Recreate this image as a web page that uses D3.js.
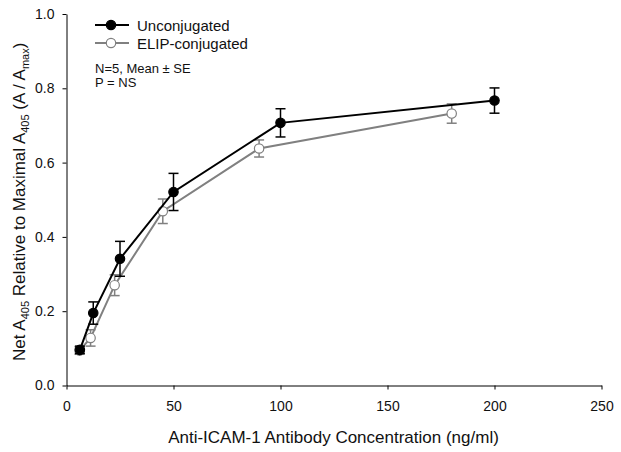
<!DOCTYPE html>
<html>
<head>
<meta charset="utf-8">
<script src="https://cdn.jsdelivr.net/npm/d3@7"></script>
<style>
  body { margin: 0; background: #fff; }
  svg { display: block; font-family: "Liberation Sans", Arial, sans-serif; }
</style>
</head>
<body>
<svg id="chart" width="621" height="452"></svg>
<script>
// Data
const unconjX = [6.25, 12.5, 25, 50, 100, 200];
const unconjY = [0.096, 0.195, 0.341, 0.521, 0.707, 0.767];
const unconjSE = [0.010, 0.030, 0.047, 0.050, 0.038, 0.034];

const elipX = [6.1, 11.25, 22.5, 45, 90, 180];
const elipY = [0.094, 0.128, 0.270, 0.469, 0.638, 0.732];
const elipSE = [0.010, 0.022, 0.028, 0.033, 0.023, 0.026];

const xTicks = [0, 50, 100, 150, 200, 250];
const yTicks = [0.0, 0.2, 0.4, 0.6, 0.8, 1.0];

(function () {
const svg = d3.select("#chart");
const mLeft = 66.5, mRight = 601.5, mTop = 14, mBottom = 385.5;

const x = d3.scaleLinear().domain([0, 250]).range([mLeft, mRight]);
const y = d3.scaleLinear().domain([0, 1]).range([mBottom, mTop]);

// Axes
svg.append("g")
  .attr("transform", `translate(0,${mBottom})`)
  .call(d3.axisBottom(x).tickValues(xTicks).tickSize(4).tickSizeOuter(0).tickPadding(12).tickFormat(d3.format("d")))
  .call(g => g.selectAll("text").attr("font-size", 14).attr("fill", "#111"))
  .call(g => g.select(".domain").attr("stroke", "#000"))
  .call(g => g.selectAll(".tick line").attr("stroke", "#000"));

svg.append("g")
  .attr("transform", `translate(${mLeft},0)`)
  .call(d3.axisLeft(y).tickValues(yTicks).tickSize(4).tickSizeOuter(0).tickPadding(8).tickFormat(d3.format(".1f")))
  .call(g => g.selectAll("text").attr("font-size", 14).attr("fill", "#111"))
  .call(g => g.select(".domain").attr("stroke", "#000"))
  .call(g => g.selectAll(".tick line").attr("stroke", "#000"));

// Axis labels
svg.append("text")
  .attr("x", (mLeft + mRight) / 2 - 0.5)
  .attr("y", 443)
  .attr("text-anchor", "middle")
  .attr("font-size", 17)
  .attr("fill", "#111")
  .text("Anti-ICAM-1 Antibody Concentration (ng/ml)");

const yl = svg.append("text")
  .attr("transform", `translate(25,${(mTop + mBottom) / 2 + 2}) rotate(-90)`)
  .attr("text-anchor", "middle")
  .attr("font-size", 17)
  .attr("fill", "#111");
const parts = [
  ["Net A", false], ["405", true], [" Relative to Maximal A", false], ["405", true],
  [" (A / A", false], ["max", true], [")", false]
];
parts.forEach(([t, sub], i) => {
  const ts = yl.append("tspan").text(t);
  if (sub) ts.attr("font-size", 11).attr("dy", 4);
  else if (i > 0) ts.attr("dy", -4);
});

// Series drawing
function drawSeries(xs, ys, se, color, fill, width) {
  const pts = xs.map((d, i) => ({ x: d, y: ys[i], e: se[i] }));
  const g = svg.append("g");
  g.append("path")
    .datum(pts)
    .attr("fill", "none")
    .attr("stroke", color)
    .attr("stroke-width", width)
    .attr("d", d3.line().x(d => x(d.x)).y(d => y(d.y)));
  const eb = g.selectAll(".eb").data(pts).enter().append("g")
    .attr("stroke", color).attr("stroke-width", 1.5);
  eb.append("line")
    .attr("x1", d => x(d.x)).attr("x2", d => x(d.x))
    .attr("y1", d => y(d.y + d.e)).attr("y2", d => y(d.y - d.e));
  eb.append("line")
    .attr("x1", d => x(d.x) - 5).attr("x2", d => x(d.x) + 5)
    .attr("y1", d => y(d.y + d.e)).attr("y2", d => y(d.y + d.e));
  eb.append("line")
    .attr("x1", d => x(d.x) - 5).attr("x2", d => x(d.x) + 5)
    .attr("y1", d => y(d.y - d.e)).attr("y2", d => y(d.y - d.e));
  g.selectAll("circle").data(pts).enter().append("circle")
    .attr("cx", d => x(d.x)).attr("cy", d => y(d.y))
    .attr("r", 4.7)
    .attr("fill", fill)
    .attr("stroke", color)
    .attr("stroke-width", 1.2);
}

drawSeries(elipX, elipY, elipSE, "#808080", "#fff", 2);
drawSeries(unconjX, unconjY, unconjSE, "#000", "#000", 2);

// Legend
const legend = [
  { label: "Unconjugated", color: "#000", fill: "#000", yy: 25 },
  { label: "ELIP-conjugated", color: "#808080", fill: "#fff", yy: 43 }
];
legend.forEach(l => {
  svg.append("line").attr("x1", 95).attr("x2", 129).attr("y1", l.yy).attr("y2", l.yy)
    .attr("stroke", l.color).attr("stroke-width", 2);
  svg.append("circle").attr("cx", 111).attr("cy", l.yy).attr("r", 4.7)
    .attr("fill", l.fill).attr("stroke", l.color).attr("stroke-width", 1.2);
  svg.append("text").attr("x", 137).attr("y", l.yy + 5.5).attr("font-size", 15)
    .attr("fill", "#111").text(l.label);
});
svg.append("text").attr("x", 95).attr("y", 72.5).attr("font-size", 13).attr("fill", "#111")
  .text("N=5, Mean \u00B1 SE");
svg.append("text").attr("x", 95).attr("y", 87).attr("font-size", 13).attr("fill", "#111")
  .text("P = NS");
})();
</script>
</body>
</html>
